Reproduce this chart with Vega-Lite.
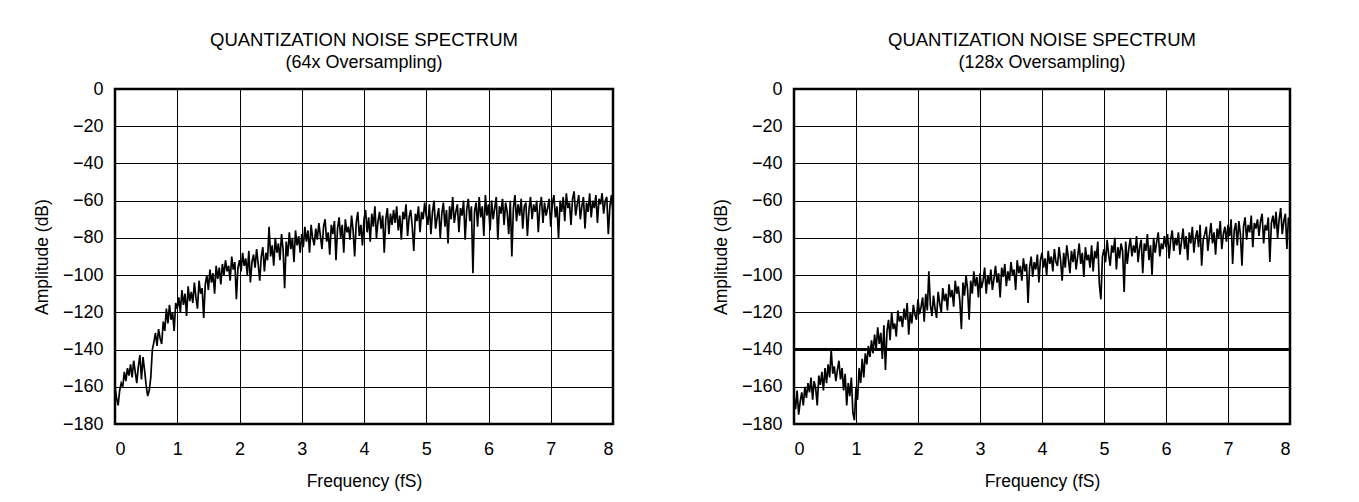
{
"$schema": "https://vega.github.io/schema/vega-lite/v6.json",
"background": "white",
"padding": {"left": 32, "top": 29, "right": 10, "bottom": 0},
"config": {
"font": "Liberation Sans",
"view": {"stroke": "black", "strokeWidth": 2.5},
"axis": {"grid": true, "gridColor": "black", "gridOpacity": 1, "gridWidth": 1, "domain": false, "ticks": false, "labelFontSize": 18, "titleFontSize": 17.5, "labelColor": "black", "titleColor": "black", "titleFontWeight": "normal", "labelPadding": 12, "titlePadding": 11, "labelFont": "Liberation Sans", "titleFont": "Liberation Sans"},
"axisX": {"labelPadding": 16, "titlePadding": 14},
"title": {"fontSize": 18.5, "subtitleFontSize": 18, "fontWeight": "normal", "color": "black", "subtitleColor": "black", "offset": 8, "subtitlePadding": 5, "font": "Liberation Sans", "subtitleFont": "Liberation Sans", "anchor": "middle", "frame": "group"},
"concat": {"spacing": 93}
},
"datasets": {
"s64": [
{"f":0,"a":-160},{"f":0.025,"a":-166},{"f":0.05,"a":-170},{"f":0.075,"a":-162},{"f":0.1,"a":-158},{"f":0.125,"a":-160},{"f":0.15,"a":-152},{"f":0.175,"a":-157},{"f":0.2,"a":-150},{"f":0.225,"a":-154},
{"f":0.25,"a":-148},{"f":0.275,"a":-155},{"f":0.3,"a":-146},{"f":0.325,"a":-152},{"f":0.35,"a":-158},{"f":0.375,"a":-149},{"f":0.4,"a":-143},{"f":0.425,"a":-156},{"f":0.45,"a":-144},{"f":0.475,"a":-151},
{"f":0.5,"a":-159},{"f":0.525,"a":-165},{"f":0.55,"a":-162},{"f":0.575,"a":-155},{"f":0.6,"a":-140},{"f":0.625,"a":-136},{"f":0.65,"a":-131},{"f":0.675,"a":-138},{"f":0.7,"a":-129},{"f":0.725,"a":-134},
{"f":0.75,"a":-137},{"f":0.775,"a":-125},{"f":0.8,"a":-130},{"f":0.825,"a":-118},{"f":0.85,"a":-126},{"f":0.875,"a":-116},{"f":0.9,"a":-124},{"f":0.925,"a":-120},{"f":0.95,"a":-130},{"f":0.975,"a":-115},
{"f":1,"a":-118},{"f":1.025,"a":-112},{"f":1.05,"a":-120},{"f":1.075,"a":-108},{"f":1.1,"a":-116},{"f":1.125,"a":-110},{"f":1.15,"a":-122},{"f":1.175,"a":-106},{"f":1.2,"a":-114},{"f":1.225,"a":-109},
{"f":1.25,"a":-115},{"f":1.275,"a":-104},{"f":1.3,"a":-112},{"f":1.325,"a":-118},{"f":1.35,"a":-103},{"f":1.375,"a":-110},{"f":1.4,"a":-107},{"f":1.425,"a":-123},{"f":1.45,"a":-105},{"f":1.475,"a":-100},
{"f":1.5,"a":-108},{"f":1.525,"a":-97},{"f":1.55,"a":-104},{"f":1.575,"a":-99},{"f":1.6,"a":-110},{"f":1.625,"a":-95},{"f":1.65,"a":-102},{"f":1.675,"a":-96},{"f":1.7,"a":-105},{"f":1.725,"a":-94},
{"f":1.75,"a":-100},{"f":1.775,"a":-92},{"f":1.8,"a":-98},{"f":1.825,"a":-95},{"f":1.85,"a":-103},{"f":1.875,"a":-90},{"f":1.9,"a":-97},{"f":1.925,"a":-93},{"f":1.95,"a":-113},{"f":1.975,"a":-96},
{"f":2,"a":-92},{"f":2.025,"a":-98},{"f":2.05,"a":-88},{"f":2.075,"a":-95},{"f":2.1,"a":-91},{"f":2.125,"a":-100},{"f":2.15,"a":-87},{"f":2.175,"a":-104},{"f":2.2,"a":-93},{"f":2.225,"a":-89},
{"f":2.25,"a":-96},{"f":2.275,"a":-86},{"f":2.3,"a":-94},{"f":2.325,"a":-103},{"f":2.35,"a":-90},{"f":2.375,"a":-85},{"f":2.4,"a":-98},{"f":2.425,"a":-88},{"f":2.45,"a":-92},{"f":2.475,"a":-74},
{"f":2.5,"a":-90},{"f":2.525,"a":-84},{"f":2.55,"a":-95},{"f":2.575,"a":-80},{"f":2.6,"a":-88},{"f":2.625,"a":-83},{"f":2.65,"a":-92},{"f":2.675,"a":-78},{"f":2.7,"a":-86},{"f":2.725,"a":-107},
{"f":2.75,"a":-82},{"f":2.775,"a":-90},{"f":2.8,"a":-77},{"f":2.825,"a":-86},{"f":2.85,"a":-80},{"f":2.875,"a":-93},{"f":2.9,"a":-76},{"f":2.925,"a":-84},{"f":2.95,"a":-79},{"f":2.975,"a":-88},
{"f":3,"a":-78},{"f":3.025,"a":-85},{"f":3.05,"a":-74},{"f":3.075,"a":-82},{"f":3.1,"a":-76},{"f":3.125,"a":-88},{"f":3.15,"a":-73},{"f":3.175,"a":-80},{"f":3.2,"a":-84},{"f":3.225,"a":-75},
{"f":3.25,"a":-81},{"f":3.275,"a":-72},{"f":3.3,"a":-79},{"f":3.325,"a":-86},{"f":3.35,"a":-74},{"f":3.375,"a":-70},{"f":3.4,"a":-82},{"f":3.425,"a":-77},{"f":3.45,"a":-89},{"f":3.475,"a":-73},
{"f":3.5,"a":-78},{"f":3.525,"a":-71},{"f":3.55,"a":-92},{"f":3.575,"a":-75},{"f":3.6,"a":-69},{"f":3.625,"a":-80},{"f":3.65,"a":-73},{"f":3.675,"a":-88},{"f":3.7,"a":-70},{"f":3.725,"a":-77},
{"f":3.75,"a":-74},{"f":3.775,"a":-81},{"f":3.8,"a":-68},{"f":3.825,"a":-76},{"f":3.85,"a":-90},{"f":3.875,"a":-72},{"f":3.9,"a":-66},{"f":3.925,"a":-79},{"f":3.95,"a":-73},{"f":3.975,"a":-84},
{"f":4,"a":-70},{"f":4.025,"a":-65},{"f":4.05,"a":-77},{"f":4.075,"a":-69},{"f":4.1,"a":-82},{"f":4.125,"a":-67},{"f":4.15,"a":-74},{"f":4.175,"a":-63},{"f":4.2,"a":-80},{"f":4.225,"a":-71},
{"f":4.25,"a":-66},{"f":4.275,"a":-75},{"f":4.3,"a":-68},{"f":4.325,"a":-88},{"f":4.35,"a":-70},{"f":4.375,"a":-64},{"f":4.4,"a":-78},{"f":4.425,"a":-67},{"f":4.45,"a":-73},{"f":4.475,"a":-65},
{"f":4.5,"a":-72},{"f":4.525,"a":-63},{"f":4.55,"a":-76},{"f":4.575,"a":-68},{"f":4.6,"a":-81},{"f":4.625,"a":-66},{"f":4.65,"a":-70},{"f":4.675,"a":-62},{"f":4.7,"a":-79},{"f":4.725,"a":-69},
{"f":4.75,"a":-65},{"f":4.775,"a":-74},{"f":4.8,"a":-87},{"f":4.825,"a":-67},{"f":4.85,"a":-71},{"f":4.875,"a":-63},{"f":4.9,"a":-77},{"f":4.925,"a":-66},{"f":4.95,"a":-70},{"f":4.975,"a":-61},
{"f":5,"a":-68},{"f":5.025,"a":-73},{"f":5.05,"a":-62},{"f":5.075,"a":-78},{"f":5.1,"a":-66},{"f":5.125,"a":-60},{"f":5.15,"a":-75},{"f":5.175,"a":-69},{"f":5.2,"a":-64},{"f":5.225,"a":-80},
{"f":5.25,"a":-67},{"f":5.275,"a":-61},{"f":5.3,"a":-74},{"f":5.325,"a":-65},{"f":5.35,"a":-83},{"f":5.375,"a":-63},{"f":5.4,"a":-70},{"f":5.425,"a":-58},{"f":5.45,"a":-72},{"f":5.475,"a":-66},
{"f":5.5,"a":-62},{"f":5.525,"a":-77},{"f":5.55,"a":-64},{"f":5.575,"a":-68},{"f":5.6,"a":-60},{"f":5.625,"a":-81},{"f":5.65,"a":-65},{"f":5.675,"a":-59},{"f":5.7,"a":-71},{"f":5.725,"a":-63},
{"f":5.75,"a":-99},{"f":5.775,"a":-66},{"f":5.8,"a":-61},{"f":5.825,"a":-74},{"f":5.85,"a":-58},{"f":5.875,"a":-69},{"f":5.9,"a":-63},{"f":5.925,"a":-79},{"f":5.95,"a":-57},{"f":5.975,"a":-68},
{"f":6,"a":-62},{"f":6.025,"a":-76},{"f":6.05,"a":-60},{"f":6.075,"a":-70},{"f":6.1,"a":-64},{"f":6.125,"a":-58},{"f":6.15,"a":-81},{"f":6.175,"a":-63},{"f":6.2,"a":-67},{"f":6.225,"a":-59},
{"f":6.25,"a":-73},{"f":6.275,"a":-61},{"f":6.3,"a":-66},{"f":6.325,"a":-78},{"f":6.35,"a":-60},{"f":6.375,"a":-90},{"f":6.4,"a":-64},{"f":6.425,"a":-57},{"f":6.45,"a":-71},{"f":6.475,"a":-62},
{"f":6.5,"a":-68},{"f":6.525,"a":-59},{"f":6.55,"a":-75},{"f":6.575,"a":-63},{"f":6.6,"a":-61},{"f":6.625,"a":-79},{"f":6.65,"a":-65},{"f":6.675,"a":-58},{"f":6.7,"a":-70},{"f":6.725,"a":-62},
{"f":6.75,"a":-66},{"f":6.775,"a":-60},{"f":6.8,"a":-77},{"f":6.825,"a":-63},{"f":6.85,"a":-58},{"f":6.875,"a":-72},{"f":6.9,"a":-61},{"f":6.925,"a":-68},{"f":6.95,"a":-64},{"f":6.975,"a":-59},
{"f":7,"a":-74},{"f":7.025,"a":-62},{"f":7.05,"a":-57},{"f":7.075,"a":-69},{"f":7.1,"a":-63},{"f":7.125,"a":-80},{"f":7.15,"a":-60},{"f":7.175,"a":-66},{"f":7.2,"a":-58},{"f":7.225,"a":-71},
{"f":7.25,"a":-56},{"f":7.275,"a":-64},{"f":7.3,"a":-61},{"f":7.325,"a":-73},{"f":7.35,"a":-59},{"f":7.375,"a":-55},{"f":7.4,"a":-68},{"f":7.425,"a":-62},{"f":7.45,"a":-57},{"f":7.475,"a":-70},
{"f":7.5,"a":-63},{"f":7.525,"a":-58},{"f":7.55,"a":-75},{"f":7.575,"a":-61},{"f":7.6,"a":-66},{"f":7.625,"a":-56},{"f":7.65,"a":-69},{"f":7.675,"a":-60},{"f":7.7,"a":-64},{"f":7.725,"a":-57},
{"f":7.75,"a":-72},{"f":7.775,"a":-59},{"f":7.8,"a":-62},{"f":7.825,"a":-56},{"f":7.85,"a":-67},{"f":7.875,"a":-60},{"f":7.9,"a":-58},{"f":7.925,"a":-78},{"f":7.95,"a":-63},{"f":7.975,"a":-57},
{"f":8,"a":-66}
],
"s128": [
{"f":0,"a":-165},{"f":0.025,"a":-172},{"f":0.05,"a":-162},{"f":0.075,"a":-175},{"f":0.1,"a":-168},{"f":0.125,"a":-163},{"f":0.15,"a":-170},{"f":0.175,"a":-160},{"f":0.2,"a":-166},{"f":0.225,"a":-158},
{"f":0.25,"a":-163},{"f":0.275,"a":-155},{"f":0.3,"a":-167},{"f":0.325,"a":-157},{"f":0.35,"a":-161},{"f":0.375,"a":-170},{"f":0.4,"a":-154},{"f":0.425,"a":-159},{"f":0.45,"a":-152},{"f":0.475,"a":-162},
{"f":0.5,"a":-150},{"f":0.525,"a":-158},{"f":0.55,"a":-148},{"f":0.575,"a":-155},{"f":0.6,"a":-140},{"f":0.625,"a":-153},{"f":0.65,"a":-149},{"f":0.675,"a":-157},{"f":0.7,"a":-151},{"f":0.725,"a":-146},
{"f":0.75,"a":-156},{"f":0.775,"a":-150},{"f":0.8,"a":-162},{"f":0.825,"a":-153},{"f":0.85,"a":-170},{"f":0.875,"a":-158},{"f":0.9,"a":-165},{"f":0.925,"a":-155},{"f":0.95,"a":-174},{"f":0.975,"a":-178},
{"f":1,"a":-160},{"f":1.025,"a":-167},{"f":1.05,"a":-150},{"f":1.075,"a":-158},{"f":1.1,"a":-145},{"f":1.125,"a":-155},{"f":1.15,"a":-142},{"f":1.175,"a":-148},{"f":1.2,"a":-138},{"f":1.225,"a":-144},
{"f":1.25,"a":-135},{"f":1.275,"a":-142},{"f":1.3,"a":-132},{"f":1.325,"a":-140},{"f":1.35,"a":-128},{"f":1.375,"a":-137},{"f":1.4,"a":-131},{"f":1.425,"a":-145},{"f":1.45,"a":-127},{"f":1.475,"a":-151},
{"f":1.5,"a":-130},{"f":1.525,"a":-124},{"f":1.55,"a":-135},{"f":1.575,"a":-120},{"f":1.6,"a":-129},{"f":1.625,"a":-126},{"f":1.65,"a":-133},{"f":1.675,"a":-119},{"f":1.7,"a":-125},{"f":1.725,"a":-122},
{"f":1.75,"a":-128},{"f":1.775,"a":-118},{"f":1.8,"a":-124},{"f":1.825,"a":-115},{"f":1.85,"a":-132},{"f":1.875,"a":-120},{"f":1.9,"a":-126},{"f":1.925,"a":-116},{"f":1.95,"a":-121},{"f":1.975,"a":-124},
{"f":2,"a":-113},{"f":2.025,"a":-121},{"f":2.05,"a":-117},{"f":2.075,"a":-112},{"f":2.1,"a":-125},{"f":2.125,"a":-110},{"f":2.15,"a":-119},{"f":2.175,"a":-98},{"f":2.2,"a":-116},{"f":2.225,"a":-122},
{"f":2.25,"a":-111},{"f":2.275,"a":-118},{"f":2.3,"a":-123},{"f":2.325,"a":-109},{"f":2.35,"a":-115},{"f":2.375,"a":-120},{"f":2.4,"a":-107},{"f":2.425,"a":-114},{"f":2.45,"a":-110},{"f":2.475,"a":-119},
{"f":2.5,"a":-105},{"f":2.525,"a":-112},{"f":2.55,"a":-108},{"f":2.575,"a":-117},{"f":2.6,"a":-103},{"f":2.625,"a":-110},{"f":2.65,"a":-106},{"f":2.675,"a":-114},{"f":2.7,"a":-129},{"f":2.725,"a":-104},
{"f":2.75,"a":-111},{"f":2.775,"a":-100},{"f":2.8,"a":-108},{"f":2.825,"a":-124},{"f":2.85,"a":-103},{"f":2.875,"a":-110},{"f":2.9,"a":-98},{"f":2.925,"a":-106},{"f":2.95,"a":-101},{"f":2.975,"a":-112},
{"f":3,"a":-99},{"f":3.025,"a":-107},{"f":3.05,"a":-103},{"f":3.075,"a":-96},{"f":3.1,"a":-110},{"f":3.125,"a":-100},{"f":3.15,"a":-105},{"f":3.175,"a":-97},{"f":3.2,"a":-108},{"f":3.225,"a":-102},
{"f":3.25,"a":-95},{"f":3.275,"a":-104},{"f":3.3,"a":-99},{"f":3.325,"a":-112},{"f":3.35,"a":-96},{"f":3.375,"a":-101},{"f":3.4,"a":-94},{"f":3.425,"a":-106},{"f":3.45,"a":-98},{"f":3.475,"a":-103},
{"f":3.5,"a":-93},{"f":3.525,"a":-100},{"f":3.55,"a":-97},{"f":3.575,"a":-108},{"f":3.6,"a":-92},{"f":3.625,"a":-99},{"f":3.65,"a":-95},{"f":3.675,"a":-103},{"f":3.7,"a":-91},{"f":3.725,"a":-98},
{"f":3.75,"a":-94},{"f":3.775,"a":-115},{"f":3.8,"a":-96},{"f":3.825,"a":-90},{"f":3.85,"a":-101},{"f":3.875,"a":-93},{"f":3.9,"a":-97},{"f":3.925,"a":-89},{"f":3.95,"a":-104},{"f":3.975,"a":-92},
{"f":4,"a":-88},{"f":4.025,"a":-96},{"f":4.05,"a":-91},{"f":4.075,"a":-100},{"f":4.1,"a":-87},{"f":4.125,"a":-94},{"f":4.15,"a":-90},{"f":4.175,"a":-98},{"f":4.2,"a":-86},{"f":4.225,"a":-93},
{"f":4.25,"a":-95},{"f":4.275,"a":-85},{"f":4.3,"a":-92},{"f":4.325,"a":-103},{"f":4.35,"a":-88},{"f":4.375,"a":-96},{"f":4.4,"a":-84},{"f":4.425,"a":-91},{"f":4.45,"a":-99},{"f":4.475,"a":-87},
{"f":4.5,"a":-93},{"f":4.525,"a":-86},{"f":4.55,"a":-97},{"f":4.575,"a":-90},{"f":4.6,"a":-83},{"f":4.625,"a":-94},{"f":4.65,"a":-88},{"f":4.675,"a":-101},{"f":4.7,"a":-85},{"f":4.725,"a":-92},
{"f":4.75,"a":-89},{"f":4.775,"a":-96},{"f":4.8,"a":-84},{"f":4.825,"a":-98},{"f":4.85,"a":-87},{"f":4.875,"a":-91},{"f":4.9,"a":-82},{"f":4.925,"a":-105},{"f":4.95,"a":-113},{"f":4.975,"a":-90},
{"f":5,"a":-86},{"f":5.025,"a":-93},{"f":5.05,"a":-81},{"f":5.075,"a":-89},{"f":5.1,"a":-95},{"f":5.125,"a":-84},{"f":5.15,"a":-88},{"f":5.175,"a":-80},{"f":5.2,"a":-97},{"f":5.225,"a":-85},
{"f":5.25,"a":-91},{"f":5.275,"a":-83},{"f":5.3,"a":-87},{"f":5.325,"a":-109},{"f":5.35,"a":-82},{"f":5.375,"a":-94},{"f":5.4,"a":-86},{"f":5.425,"a":-80},{"f":5.45,"a":-90},{"f":5.475,"a":-84},
{"f":5.5,"a":-88},{"f":5.525,"a":-79},{"f":5.55,"a":-93},{"f":5.575,"a":-85},{"f":5.6,"a":-81},{"f":5.625,"a":-99},{"f":5.65,"a":-83},{"f":5.675,"a":-87},{"f":5.7,"a":-78},{"f":5.725,"a":-92},
{"f":5.75,"a":-84},{"f":5.775,"a":-100},{"f":5.8,"a":-80},{"f":5.825,"a":-88},{"f":5.85,"a":-82},{"f":5.875,"a":-77},{"f":5.9,"a":-90},{"f":5.925,"a":-83},{"f":5.95,"a":-86},{"f":5.975,"a":-79},
{"f":6,"a":-85},{"f":6.025,"a":-78},{"f":6.05,"a":-91},{"f":6.075,"a":-81},{"f":6.1,"a":-76},{"f":6.125,"a":-87},{"f":6.15,"a":-80},{"f":6.175,"a":-84},{"f":6.2,"a":-77},{"f":6.225,"a":-89},
{"f":6.25,"a":-82},{"f":6.275,"a":-75},{"f":6.3,"a":-86},{"f":6.325,"a":-79},{"f":6.35,"a":-92},{"f":6.375,"a":-77},{"f":6.4,"a":-83},{"f":6.425,"a":-74},{"f":6.45,"a":-88},{"f":6.475,"a":-80},
{"f":6.5,"a":-76},{"f":6.525,"a":-85},{"f":6.55,"a":-73},{"f":6.575,"a":-95},{"f":6.6,"a":-81},{"f":6.625,"a":-78},{"f":6.65,"a":-74},{"f":6.675,"a":-87},{"f":6.7,"a":-79},{"f":6.725,"a":-72},
{"f":6.75,"a":-83},{"f":6.775,"a":-77},{"f":6.8,"a":-89},{"f":6.825,"a":-75},{"f":6.85,"a":-80},{"f":6.875,"a":-71},{"f":6.9,"a":-86},{"f":6.925,"a":-78},{"f":6.95,"a":-74},{"f":6.975,"a":-82},
{"f":7,"a":-73},{"f":7.025,"a":-79},{"f":7.05,"a":-70},{"f":7.075,"a":-94},{"f":7.1,"a":-76},{"f":7.125,"a":-72},{"f":7.15,"a":-84},{"f":7.175,"a":-71},{"f":7.2,"a":-78},{"f":7.225,"a":-95},
{"f":7.25,"a":-74},{"f":7.275,"a":-69},{"f":7.3,"a":-81},{"f":7.325,"a":-73},{"f":7.35,"a":-77},{"f":7.375,"a":-68},{"f":7.4,"a":-85},{"f":7.425,"a":-72},{"f":7.45,"a":-75},{"f":7.475,"a":-70},
{"f":7.5,"a":-79},{"f":7.525,"a":-71},{"f":7.55,"a":-67},{"f":7.575,"a":-83},{"f":7.6,"a":-73},{"f":7.625,"a":-76},{"f":7.65,"a":-69},{"f":7.675,"a":-93},{"f":7.7,"a":-72},{"f":7.725,"a":-68},
{"f":7.75,"a":-75},{"f":7.775,"a":-66},{"f":7.8,"a":-80},{"f":7.825,"a":-70},{"f":7.85,"a":-64},{"f":7.875,"a":-78},{"f":7.9,"a":-71},{"f":7.925,"a":-67},{"f":7.95,"a":-86},{"f":7.975,"a":-69},
{"f":8,"a":-72}
]
},
"hconcat": [
{
"width": 498, "height": 335,
"title": {"text": "QUANTIZATION NOISE SPECTRUM", "subtitle": "(64x Oversampling)"},
"data": {"name": "s64"},
"mark": {"type": "line", "color": "black", "strokeWidth": 1.7},
"encoding": {
"x": {"field": "f", "type": "quantitative", "scale": {"domain": [0, 8], "nice": false}, "axis": {"title": "Frequency (fS)", "values": [0,1,2,3,4,5,6,7,8]}},
"y": {"field": "a", "type": "quantitative", "scale": {"domain": [-180, 0], "nice": false}, "axis": {"title": "Amplitude (dB)", "values": [-180,-160,-140,-120,-100,-80,-60,-40,-20,0], "labelExpr": "replace(datum.label, '-', '\u2212')"}}
}
},
{
"width": 496, "height": 335,
"title": {"text": "QUANTIZATION NOISE SPECTRUM", "subtitle": "(128x Oversampling)"},
"data": {"name": "s128"},
"encoding": {
"y": {"field": "a", "type": "quantitative", "scale": {"domain": [-180, 0], "nice": false}, "axis": {"title": "Amplitude (dB)", "values": [-180,-160,-140,-120,-100,-80,-60,-40,-20,0], "labelExpr": "replace(datum.label, '-', '\u2212')"}}
},
"layer": [
{
"mark": {"type": "line", "color": "black", "strokeWidth": 1.7},
"encoding": {
"x": {"field": "f", "type": "quantitative", "scale": {"domain": [0, 8], "nice": false}, "axis": {"title": "Frequency (fS)", "values": [0,1,2,3,4,5,6,7,8]}}
}
},
{
"mark": {"type": "rule", "color": "black", "strokeWidth": 1.5},
"encoding": {"y": {"datum": -140}}
}
]
}
]
}
